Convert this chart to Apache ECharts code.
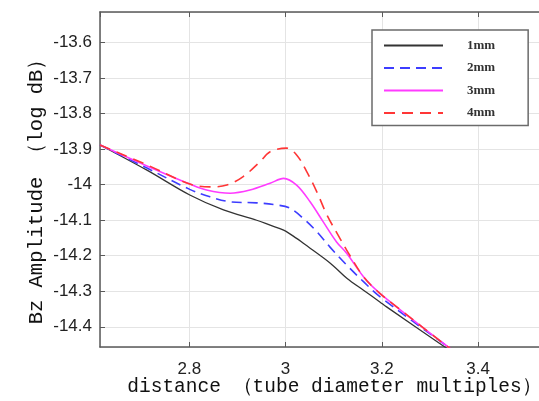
<!DOCTYPE html>
<html>
<head>
<meta charset="utf-8">
<script src="https://cdn.jsdelivr.net/npm/echarts@6/dist/echarts.min.js"></script>
<style>
html,body{margin:0;padding:0;background:#fff;}
#c{width:539px;height:401px;}
</style>
</head>
<body>
<div id="c"></div>
<script>
// ---- data ----
var seriesNames = ['1mm', '2mm', '3mm', '4mm'];

var x1mm = [2.6144, 2.712, 2.801, 2.871, 2.940, 2.968, 2.996, 3.023, 3.037, 3.093, 3.128, 3.162, 3.196, 3.210, 3.331, 3.400];
var y1mm = [-13.888, -13.959, -14.029, -14.071, -14.100, -14.114, -14.128, -14.151, -14.165, -14.221, -14.264, -14.297, -14.330, -14.344, -14.457, -14.522];

var x2mm = [2.6144, 2.712, 2.801, 2.843, 2.885, 2.940, 2.982, 3.009, 3.037, 3.065, 3.092, 3.127, 3.162, 3.196, 3.338, 3.400];
var y2mm = [-13.888, -13.953, -14.013, -14.034, -14.048, -14.051, -14.057, -14.066, -14.095, -14.132, -14.175, -14.226, -14.273, -14.315, -14.457, -14.516];

var x3mm = [2.6144, 2.712, 2.801, 2.836, 2.885, 2.926, 2.968, 2.996, 3.023, 3.051, 3.078, 3.106, 3.127, 3.162, 3.196, 3.338, 3.400];
var y3mm = [-13.888, -13.947, -13.998, -14.015, -14.024, -14.015, -13.996, -13.982, -14.001, -14.048, -14.104, -14.161, -14.193, -14.259, -14.306, -14.457, -14.516];

var x4mm = [2.6144, 2.712, 2.801, 2.843, 2.878, 2.912, 2.947, 2.968, 3.002, 3.023, 3.044, 3.065, 3.086, 3.113, 3.127, 3.162, 3.196, 3.231, 3.338, 3.400];
var y4mm = [-13.888, -13.944, -13.998, -14.006, -14.001, -13.977, -13.935, -13.907, -13.897, -13.916, -13.963, -14.020, -14.085, -14.151, -14.184, -14.259, -14.306, -14.344, -14.457, -14.516];

var xMin = 2.6144, xMax = 3.5683;
var yMin = -14.457, yMax = -13.5135;

var xTitle = 'distance （tube diameter multiples）';
var yTitle = 'Bz Amplitude （log dB）';

function pairs(xs, ys) { return xs.map(function (x, i) { return [x, ys[i]]; }); }

var chart = echarts.init(document.getElementById('c'), null, {renderer: 'canvas'});

var axisLineStyle = {color: '#5a5a5a', width: 1.5};
var tickStyle = {color: '#5a5a5a', width: 1};
var splitStyle = {color: '#e4e4e4', width: 1};
var labelFont = {fontFamily: 'Liberation Sans', fontSize: 17, color: '#222'};

var option = {
  animation: false,
  backgroundColor: '#fff',
  grid: {left: 100, top: 12, right: -20, bottom: 54, containLabel: false, outerBoundsMode: 'none'},
  legend: {
    orient: 'vertical',
    left: 372,
    top: 30,
    padding: [9, 33, 6, 11],
    itemWidth: 59,
    itemHeight: 14,
    itemGap: 9.5,
    backgroundColor: '#fff',
    borderColor: '#6b6b6b',
    borderWidth: 1.5,
    borderRadius: 0,
    data: seriesNames,
    itemStyle: {opacity: 0},
    textStyle: {fontFamily: 'Liberation Serif', fontSize: 13, fontWeight: 'bold', color: '#333', padding: [0, 0, 0, 19], width: 45}
  },
  xAxis: [{
    type: 'value', position: 'bottom', min: xMin, max: xMax,
    name: xTitle, nameLocation: 'middle', nameGap: 30, nameMoveOverlap: false,
    nameTextStyle: {fontFamily: 'Liberation Mono', fontSize: 19.5, color: '#111', padding: [0, 0, 0, 10]},
    axisLine: {show: true, lineStyle: axisLineStyle},
    axisTick: {show: true, inside: true, length: 5, lineStyle: tickStyle},
    axisLabel: Object.assign({margin: 14, showMinLabel: false, showMaxLabel: false}, labelFont),
    splitLine: {show: true, lineStyle: splitStyle}
  }, {
    type: 'value', position: 'top', min: xMin, max: xMax,
    axisLine: {show: true, lineStyle: axisLineStyle},
    axisTick: {show: true, inside: true, length: 5, lineStyle: tickStyle},
    axisLabel: {show: false},
    splitLine: {show: false}
  }],
  yAxis: {
    type: 'value', min: yMin, max: yMax, splitNumber: 9,
    name: yTitle, nameLocation: 'middle', nameGap: 53, nameRotate: 90, nameMoveOverlap: false,
    nameTextStyle: {fontFamily: 'Liberation Mono', fontSize: 20.5, color: '#111', padding: [0, 14, 0, 0]},
    axisLine: {show: true, lineStyle: axisLineStyle},
    axisTick: {show: true, inside: true, length: 5, lineStyle: tickStyle},
    axisLabel: Object.assign({margin: 8, showMinLabel: false, showMaxLabel: false}, labelFont),
    splitLine: {show: true, lineStyle: splitStyle}
  },
  series: [
    {name: '1mm', type: 'line', data: pairs(x1mm, y1mm), symbol: 'none', smooth: 0.35, clip: true,
     lineStyle: {color: '#333333', width: 1.3, type: 'solid'}, itemStyle: {color: '#333333', opacity: 0}},
    {name: '2mm', type: 'line', data: pairs(x2mm, y2mm), symbol: 'none', smooth: 0.35, clip: true,
     lineStyle: {color: '#3d3dff', width: 1.6, type: [10, 6]}, itemStyle: {color: '#3d3dff', opacity: 0}},
    {name: '3mm', type: 'line', data: pairs(x3mm, y3mm), symbol: 'none', smooth: 0.35, clip: true,
     lineStyle: {color: '#ff3bff', width: 1.6, type: 'solid'}, itemStyle: {color: '#ff3bff', opacity: 0}},
    {name: '4mm', type: 'line', data: pairs(x4mm, y4mm), symbol: 'none', smooth: 0.35, clip: true,
     lineStyle: {color: '#ff3636', width: 1.6, type: [11, 7]}, itemStyle: {color: '#ff3636', opacity: 0}}
  ]
};
chart.setOption(option);
</script>
</body>
</html>
